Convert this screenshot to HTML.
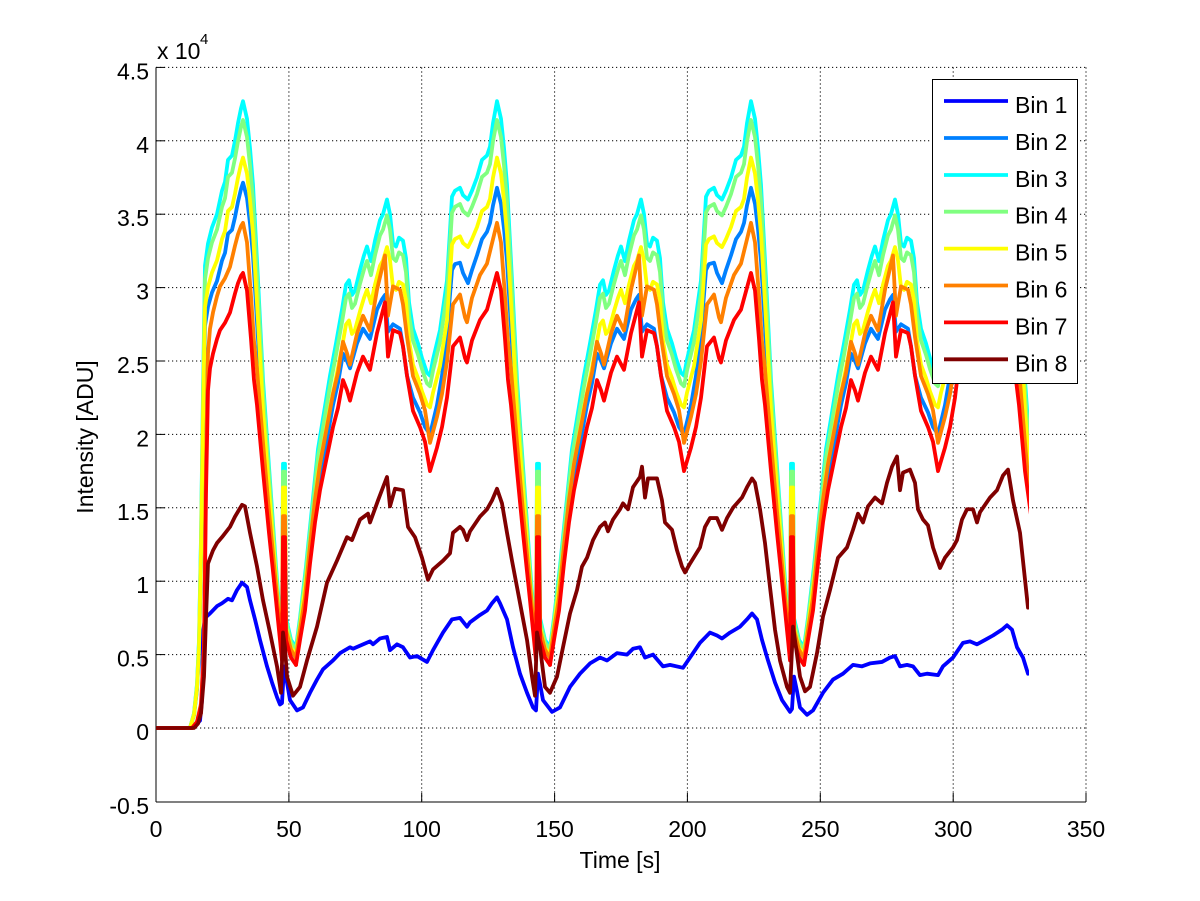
<!DOCTYPE html>
<html><head><meta charset="utf-8"><style>
html,body{margin:0;padding:0;background:#fff;}
svg{display:block;font-family:"Liberation Sans",Arial,sans-serif;}
.dt path{vector-effect:non-scaling-stroke;fill:none;stroke-width:3.8;stroke-linejoin:round;stroke-linecap:round;}
.g line{stroke:#000;stroke-width:1;stroke-dasharray:1.2,2.8;}
.tk{font-size:23px;fill:#000;}
</style></head><body>
<svg width="1200" height="901" viewBox="0 0 1200 901" xmlns="http://www.w3.org/2000/svg">
<rect x="0" y="0" width="1200" height="901" fill="#fff"/>
<defs><clipPath id="c"><rect x="156" y="0" width="873" height="901"/></clipPath></defs>
<g class="g">
<line x1="156" y1="67.4" x2="1086" y2="67.4"/>
<line x1="156" y1="140.8" x2="1086" y2="140.8"/>
<line x1="156" y1="214.2" x2="1086" y2="214.2"/>
<line x1="156" y1="287.6" x2="1086" y2="287.6"/>
<line x1="156" y1="361" x2="1086" y2="361"/>
<line x1="156" y1="434.4" x2="1086" y2="434.4"/>
<line x1="156" y1="507.8" x2="1086" y2="507.8"/>
<line x1="156" y1="581.2" x2="1086" y2="581.2"/>
<line x1="156" y1="654.6" x2="1086" y2="654.6"/>
<line x1="156" y1="728" x2="1086" y2="728"/>
<line x1="288.9" y1="67.4" x2="288.9" y2="802"/>
<line x1="421.7" y1="67.4" x2="421.7" y2="802"/>
<line x1="554.6" y1="67.4" x2="554.6" y2="802"/>
<line x1="687.4" y1="67.4" x2="687.4" y2="802"/>
<line x1="820.3" y1="67.4" x2="820.3" y2="802"/>
<line x1="953.2" y1="67.4" x2="953.2" y2="802"/>
<line x1="1086" y1="67.4" x2="1086" y2="802"/>
</g>
<g stroke="#000" stroke-width="1">
<line x1="156" y1="67.4" x2="156" y2="802"/>
<line x1="156" y1="802" x2="1086" y2="802"/>
<line x1="156" y1="67.4" x2="165" y2="67.4"/>
<line x1="156" y1="140.8" x2="165" y2="140.8"/>
<line x1="156" y1="214.2" x2="165" y2="214.2"/>
<line x1="156" y1="287.6" x2="165" y2="287.6"/>
<line x1="156" y1="361" x2="165" y2="361"/>
<line x1="156" y1="434.4" x2="165" y2="434.4"/>
<line x1="156" y1="507.8" x2="165" y2="507.8"/>
<line x1="156" y1="581.2" x2="165" y2="581.2"/>
<line x1="156" y1="654.6" x2="165" y2="654.6"/>
<line x1="156" y1="728" x2="165" y2="728"/>
<line x1="288.9" y1="802" x2="288.9" y2="793"/>
<line x1="421.7" y1="802" x2="421.7" y2="793"/>
<line x1="554.6" y1="802" x2="554.6" y2="793"/>
<line x1="687.4" y1="802" x2="687.4" y2="793"/>
<line x1="820.3" y1="802" x2="820.3" y2="793"/>
<line x1="953.2" y1="802" x2="953.2" y2="793"/>
<line x1="1086" y1="802" x2="1086" y2="793"/>
</g>

<g clip-path="url(#c)">
<g class="dt" transform="translate(0,728) scale(1,-146.8)">
<!-- Bin 1 -->
<path stroke="#0000ff" d="M156,0 192,0 196,0.02 200,0.05 202,0.19 203,0.65 205,0.75 210,0.78 217,0.83 222,0.85 228,0.88 232,0.87 237,0.94 242,0.99 247,0.96 250,0.87 255,0.74 260,0.6 267,0.42 272,0.31 277,0.21 280,0.16 282,0.17 284,0.42 286,0.35 290,0.19 297,0.12 303,0.14 310,0.24 317,0.33 323,0.4 333,0.46 340,0.51 350,0.55 353,0.54 363,0.57 370,0.59 373,0.57 380,0.61 387,0.62 390,0.53 397,0.57 403,0.55 410,0.48 417,0.49 427,0.45 433,0.53 443,0.65 452,0.74 460,0.75 467,0.69 470,0.72 480,0.77 487,0.8 492,0.85 497,0.89 500,0.85 507,0.74 513,0.55 520,0.37 527,0.24 533,0.14 536,0.12 538,0.37 540,0.3 543,0.19 552,0.11 560,0.14 570,0.28 580,0.37 590,0.44 600,0.48 607,0.46 617,0.51 627,0.5 633,0.54 640,0.55 645,0.48 653,0.5 663,0.42 670,0.43 683,0.41 690,0.48 700,0.58 710,0.65 717,0.63 722,0.61 730,0.65 740,0.69 747,0.74 752,0.78 757,0.74 762,0.6 768,0.46 775,0.31 782,0.19 790,0.11 792,0.13 794,0.35 797,0.25 800,0.14 807,0.09 813,0.12 823,0.24 833,0.33 843,0.37 853,0.43 862,0.42 870,0.44 882,0.45 890,0.48 895,0.49 900,0.42 907,0.43 913,0.42 920,0.36 927,0.37 938,0.36 943,0.42 953,0.48 963,0.58 970,0.59 977,0.57 985,0.6 993,0.63 1002,0.67 1007,0.7 1012,0.67 1017,0.55 1023,0.48 1028,0.37"/>
<!-- Bin 2 -->
<g stroke="#0080ff">
<path transform="scale(1,0.87)" d="M156,0 190,0 194,0.1 197,0.3 199,0.6 201,1.3 203,2.3 205,3.15 208,3.3 212,3.41 217,3.5 222,3.66 225,3.72 228,3.87 232,3.9 235,4.0 238,4.12 241,4.22 243,4.27 247,4.15 250,3.95 253,3.7 258,3.05 263,2.37 269,1.78 276,1.1 280,0.75 282,0.6 283,1.8 285,1.8 286,0.75 291,0.6 296,0.55"/>
<path d="M296,0.48 300,0.68 305,0.9 310,1.2 315,1.5 320,1.72 327,1.97 333,2.2 338,2.35 343,2.55 347,2.5 350,2.45 357,2.62 363,2.72 370,2.65 377,2.85 382,2.92 385,2.95 388,2.7 393,2.75 400,2.72 403,2.6 407,2.4 413,2.25 420,2.15 425,2.05 430,2.0 437,2.2 442,2.4 447,2.7 450,2.95 452,3.12 455,3.16 460,3.17 463,3.1 468,3.03 472,3.12 477,3.22 482,3.33 487,3.38 490,3.44 493,3.56 497,3.68 501,3.57 504,3.4 507,3.18 512,2.62 517,2.04 523,1.53 530,0.95 534,0.65 536,0.52 537,1.55 539,1.55 540,0.65 545,0.52 550,0.48"/>
<path transform="translate(254,0)" d="M296,0.48 300,0.68 305,0.9 310,1.2 315,1.5 320,1.72 327,1.97 333,2.2 338,2.35 343,2.55 347,2.5 350,2.45 357,2.62 363,2.72 370,2.65 377,2.85 382,2.92 385,2.95 388,2.7 393,2.75 400,2.72 403,2.6 407,2.4 413,2.25 420,2.15 425,2.05 430,2.0 437,2.2 442,2.4 447,2.7 450,2.95 452,3.12 455,3.16 460,3.17 463,3.1 468,3.03 472,3.12 477,3.22 482,3.33 487,3.38 490,3.44 493,3.56 497,3.68 501,3.57 504,3.4 507,3.18 512,2.62 517,2.04 523,1.53 530,0.95 534,0.65 536,0.52 537,1.55 539,1.55 540,0.65 545,0.52 550,0.48"/>
<path transform="translate(508,0)" d="M296,0.48 300,0.68 305,0.9 310,1.2 315,1.5 320,1.72 327,1.97 333,2.2 338,2.35 343,2.55 347,2.5 350,2.45 357,2.62 363,2.72 370,2.65 377,2.85 382,2.92 385,2.95 388,2.7 393,2.75 400,2.72 403,2.6 407,2.4 413,2.25 420,2.15 425,2.05 430,2.0 437,2.2 442,2.4 447,2.7 450,2.95 452,3.12 455,3.16 460,3.17 463,3.1 468,3.03 472,3.12 477,3.22 482,3.33 487,3.38 490,3.44 493,3.56 497,3.68 501,3.57 504,3.4 507,3.18 512,2.62 517,2.04 523,1.53 530,0.95"/>
</g>
<!-- Bin 3 -->
<g stroke="#00ffff">
<path d="M156,0 190,0 194,0.1 197,0.3 199,0.6 201,1.3 203,2.3 205,3.15 208,3.3 212,3.41 217,3.5 222,3.66 225,3.72 228,3.87 232,3.9 235,4.0 238,4.12 241,4.22 243,4.27 247,4.15 250,3.95 253,3.7 258,3.05 263,2.37 269,1.78 276,1.1 280,0.75 282,0.6 283,1.8 285,1.8 286,0.75 291,0.6 296,0.55"/>
<path d="M296,0.55 300,0.75 306,1.1 312,1.5 318,1.9 324,2.15 330,2.4 336,2.62 342,2.85 346,3.02 349,3.05 352,2.95 355,2.98 360,3.12 364,3.22 367,3.28 371,3.18 375,3.32 380,3.46 383,3.5 387,3.6 390,3.5 393,3.3 396,3.28 399,3.34 403,3.32 406,3.2 409,2.9 413,2.72 418,2.62 422,2.52 427,2.42 430,2.4 433,2.51 440,2.71 447,3.05 450,3.39 452,3.62 455,3.66 460,3.68 463,3.63 468,3.6 472,3.66 477,3.75 482,3.87 487,3.9 490,3.96 493,4.12 497,4.27 501,4.15 504,3.95 507,3.7 512,3.05 517,2.37 523,1.78 530,1.1 534,0.75 536,0.6 537,1.8 539,1.8 540,0.75 545,0.6 550,0.55"/>
<path transform="translate(254,0)" d="M296,0.55 300,0.75 306,1.1 312,1.5 318,1.9 324,2.15 330,2.4 336,2.62 342,2.85 346,3.02 349,3.05 352,2.95 355,2.98 360,3.12 364,3.22 367,3.28 371,3.18 375,3.32 380,3.46 383,3.5 387,3.6 390,3.5 393,3.3 396,3.28 399,3.34 403,3.32 406,3.2 409,2.9 413,2.72 418,2.62 422,2.52 427,2.42 430,2.4 433,2.51 440,2.71 447,3.05 450,3.39 452,3.62 455,3.66 460,3.68 463,3.63 468,3.6 472,3.66 477,3.75 482,3.87 487,3.9 490,3.96 493,4.12 497,4.27 501,4.15 504,3.95 507,3.7 512,3.05 517,2.37 523,1.78 530,1.1 534,0.75 536,0.6 537,1.8 539,1.8 540,0.75 545,0.6 550,0.55"/>
<path transform="translate(508,0)" d="M296,0.55 300,0.75 306,1.1 312,1.5 318,1.9 324,2.15 330,2.4 336,2.62 342,2.85 346,3.02 349,3.05 352,2.95 355,2.98 360,3.12 364,3.22 367,3.28 371,3.18 375,3.32 380,3.46 383,3.5 387,3.6 390,3.5 393,3.3 396,3.28 399,3.34 403,3.32 406,3.2 409,2.9 413,2.72 418,2.62 422,2.52 427,2.42 430,2.4 433,2.51 440,2.71 447,3.05 450,3.39 452,3.62 455,3.66 460,3.68 463,3.63 468,3.6 472,3.66 477,3.75 482,3.87 487,3.9 490,3.96 493,4.12 497,4.27 501,4.15 504,3.95 507,3.7 512,3.05 517,2.37 523,1.78 530,1.1 534,0.75 536,0.6"/>
</g>
<!-- Bin 4 -->
<g transform="scale(1,0.97)" stroke="#80ff80">
<path d="M156,0 190,0 194,0.1 197,0.3 199,0.6 201,1.3 203,2.3 205,3.15 208,3.3 212,3.41 217,3.5 222,3.66 225,3.72 228,3.87 232,3.9 235,4.0 238,4.12 241,4.22 243,4.27 247,4.15 250,3.95 253,3.7 258,3.05 263,2.37 269,1.78 276,1.1 280,0.75 282,0.6 283,1.8 285,1.8 286,0.75 291,0.6 296,0.55"/>
<path d="M296,0.55 300,0.75 306,1.1 312,1.5 318,1.9 324,2.15 330,2.4 336,2.62 342,2.85 346,3.02 349,3.05 352,2.95 355,2.98 360,3.12 364,3.22 367,3.28 371,3.18 375,3.32 380,3.46 383,3.5 387,3.6 390,3.5 393,3.3 396,3.28 399,3.34 403,3.32 406,3.2 409,2.9 413,2.72 418,2.62 422,2.52 427,2.42 430,2.4 433,2.51 440,2.71 447,3.05 450,3.39 452,3.62 455,3.66 460,3.68 463,3.63 468,3.6 472,3.66 477,3.75 482,3.87 487,3.9 490,3.96 493,4.12 497,4.27 501,4.15 504,3.95 507,3.7 512,3.05 517,2.37 523,1.78 530,1.1 534,0.75 536,0.6 537,1.8 539,1.8 540,0.75 545,0.6 550,0.55"/>
<path transform="translate(254,0)" d="M296,0.55 300,0.75 306,1.1 312,1.5 318,1.9 324,2.15 330,2.4 336,2.62 342,2.85 346,3.02 349,3.05 352,2.95 355,2.98 360,3.12 364,3.22 367,3.28 371,3.18 375,3.32 380,3.46 383,3.5 387,3.6 390,3.5 393,3.3 396,3.28 399,3.34 403,3.32 406,3.2 409,2.9 413,2.72 418,2.62 422,2.52 427,2.42 430,2.4 433,2.51 440,2.71 447,3.05 450,3.39 452,3.62 455,3.66 460,3.68 463,3.63 468,3.6 472,3.66 477,3.75 482,3.87 487,3.9 490,3.96 493,4.12 497,4.27 501,4.15 504,3.95 507,3.7 512,3.05 517,2.37 523,1.78 530,1.1 534,0.75 536,0.6 537,1.8 539,1.8 540,0.75 545,0.6 550,0.55"/>
<path transform="translate(508,0)" d="M296,0.55 300,0.75 306,1.1 312,1.5 318,1.9 324,2.15 330,2.4 336,2.62 342,2.85 346,3.02 349,3.05 352,2.95 355,2.98 360,3.12 364,3.22 367,3.28 371,3.18 375,3.32 380,3.46 383,3.5 387,3.6 390,3.5 393,3.3 396,3.28 399,3.34 403,3.32 406,3.2 409,2.9 413,2.72 418,2.62 422,2.52 427,2.42 430,2.4 433,2.51 440,2.71 447,3.05 450,3.39 452,3.62 455,3.66 460,3.68 463,3.63 468,3.6 472,3.66 477,3.75 482,3.87 487,3.9 490,3.96 493,4.12 497,4.27 501,4.15 504,3.95 507,3.7 512,3.05 517,2.37 523,1.78 530,1.1 534,0.75 536,0.6"/>
</g>
<!-- Bin 5 -->
<g transform="scale(1,0.91)" stroke="#ffff00">
<path d="M156,0 190,0 194,0.1 197,0.3 199,0.6 201,1.3 203,2.3 205,3.15 208,3.3 212,3.41 217,3.5 222,3.66 225,3.72 228,3.87 232,3.9 235,4.0 238,4.12 241,4.22 243,4.27 247,4.15 250,3.95 253,3.7 258,3.05 263,2.37 269,1.78 276,1.1 280,0.75 282,0.6 283,1.8 285,1.8 286,0.75 291,0.6 296,0.55"/>
<path d="M296,0.55 300,0.75 306,1.1 312,1.5 318,1.9 324,2.15 330,2.4 336,2.62 342,2.85 346,3.02 349,3.05 352,2.95 355,2.98 360,3.12 364,3.22 367,3.28 371,3.18 375,3.32 380,3.46 383,3.5 387,3.6 390,3.5 393,3.3 396,3.28 399,3.34 403,3.32 406,3.2 409,2.9 413,2.72 418,2.62 422,2.52 427,2.42 430,2.4 433,2.51 440,2.71 447,3.05 450,3.39 452,3.62 455,3.66 460,3.68 463,3.63 468,3.6 472,3.66 477,3.75 482,3.87 487,3.9 490,3.96 493,4.12 497,4.27 501,4.15 504,3.95 507,3.7 512,3.05 517,2.37 523,1.78 530,1.1 534,0.75 536,0.6 537,1.8 539,1.8 540,0.75 545,0.6 550,0.55"/>
<path transform="translate(254,0)" d="M296,0.55 300,0.75 306,1.1 312,1.5 318,1.9 324,2.15 330,2.4 336,2.62 342,2.85 346,3.02 349,3.05 352,2.95 355,2.98 360,3.12 364,3.22 367,3.28 371,3.18 375,3.32 380,3.46 383,3.5 387,3.6 390,3.5 393,3.3 396,3.28 399,3.34 403,3.32 406,3.2 409,2.9 413,2.72 418,2.62 422,2.52 427,2.42 430,2.4 433,2.51 440,2.71 447,3.05 450,3.39 452,3.62 455,3.66 460,3.68 463,3.63 468,3.6 472,3.66 477,3.75 482,3.87 487,3.9 490,3.96 493,4.12 497,4.27 501,4.15 504,3.95 507,3.7 512,3.05 517,2.37 523,1.78 530,1.1 534,0.75 536,0.6 537,1.8 539,1.8 540,0.75 545,0.6 550,0.55"/>
<path transform="translate(508,0)" d="M296,0.55 300,0.75 306,1.1 312,1.5 318,1.9 324,2.15 330,2.4 336,2.62 342,2.85 346,3.02 349,3.05 352,2.95 355,2.98 360,3.12 364,3.22 367,3.28 371,3.18 375,3.32 380,3.46 383,3.5 387,3.6 390,3.5 393,3.3 396,3.28 399,3.34 403,3.32 406,3.2 409,2.9 413,2.72 418,2.62 422,2.52 427,2.42 430,2.4 433,2.51 440,2.71 447,3.05 450,3.39 452,3.62 455,3.66 460,3.68 463,3.63 468,3.6 472,3.66 477,3.75 482,3.87 487,3.9 490,3.96 493,4.12 497,4.27 501,4.15 504,3.95 507,3.7 512,3.05 517,2.37 523,1.78 530,1.1 534,0.75 536,0.6"/>
</g>
<!-- Bin 6 -->
<g transform="scale(1,1.11)" stroke="#ff8000">
<path d="M156,0 192,0 197,0.04 201,0.15 204,0.5 206,1.6 208,2.3 210,2.45 213,2.55 217,2.65 220,2.71 225,2.76 230,2.83 235,2.96 238,3.03 241,3.08 243,3.1 247,2.98 251,2.65 254,2.37 257,2.2 263,1.75 269,1.33 276,0.87 280,0.6 282,0.46 283,1.3 285,1.3 286,0.6 291,0.48 296,0.43"/>
<path d="M296,0.43 300,0.6 305,0.8 310,1.12 315,1.4 320,1.62 327,1.85 333,2.05 338,2.18 343,2.37 347,2.3 350,2.23 357,2.42 363,2.53 370,2.44 377,2.69 382,2.82 385,2.9 388,2.53 393,2.71 400,2.69 403,2.6 407,2.4 413,2.16 420,2.05 425,1.95 430,1.75 437,1.91 442,2.05 447,2.25 453,2.6 460,2.66 465,2.52 467,2.49 472,2.64 480,2.78 487,2.85 493,3 497,3.1 501,2.98 505,2.65 508,2.37 511,2.2 517,1.75 523,1.33 530,0.87 534,0.6 536,0.46 537,1.3 539,1.3 540,0.6 545,0.48 550,0.43"/>
<path transform="translate(254,0)" d="M296,0.43 300,0.6 305,0.8 310,1.12 315,1.4 320,1.62 327,1.85 333,2.05 338,2.18 343,2.37 347,2.3 350,2.23 357,2.42 363,2.53 370,2.44 377,2.69 382,2.82 385,2.9 388,2.53 393,2.71 400,2.69 403,2.6 407,2.4 413,2.16 420,2.05 425,1.95 430,1.75 437,1.91 442,2.05 447,2.25 453,2.6 460,2.66 465,2.52 467,2.49 472,2.64 480,2.78 487,2.85 493,3 497,3.1 501,2.98 505,2.65 508,2.37 511,2.2 517,1.75 523,1.33 530,0.87 534,0.6 536,0.46 537,1.3 539,1.3 540,0.6 545,0.48 550,0.43"/>
<path transform="translate(508,0)" d="M296,0.43 300,0.6 305,0.8 310,1.12 315,1.4 320,1.62 327,1.85 333,2.05 338,2.18 343,2.37 347,2.3 350,2.23 357,2.42 363,2.53 370,2.44 377,2.69 382,2.82 385,2.9 388,2.53 393,2.71 400,2.69 403,2.6 407,2.4 413,2.16 420,2.05 425,1.95 430,1.75 437,1.91 442,2.05 447,2.25 453,2.6 460,2.66 465,2.52 467,2.49 472,2.64 480,2.78 487,2.85 493,3 497,3.1 501,2.98 505,2.65 508,2.37 511,2.2 517,1.75 523,1.33 530,0.87 534,0.6"/>
</g>
<!-- Bin 7 -->
<g stroke="#ff0000">
<path d="M156,0 192,0 197,0.04 201,0.15 204,0.5 206,1.6 208,2.3 210,2.45 213,2.55 217,2.65 220,2.71 225,2.76 230,2.83 235,2.96 238,3.03 241,3.08 243,3.1 247,2.98 251,2.65 254,2.37 257,2.2 263,1.75 269,1.33 276,0.87 280,0.6 282,0.46 283,1.3 285,1.3 286,0.6 291,0.48 296,0.43"/>
<path d="M296,0.43 300,0.6 305,0.8 310,1.12 315,1.4 320,1.62 327,1.85 333,2.05 338,2.18 343,2.37 347,2.3 350,2.23 357,2.42 363,2.53 370,2.44 377,2.69 382,2.82 385,2.9 388,2.53 393,2.71 400,2.69 403,2.6 407,2.4 413,2.16 420,2.05 425,1.95 430,1.75 437,1.91 442,2.05 447,2.25 453,2.6 460,2.66 465,2.52 467,2.49 472,2.64 480,2.78 487,2.85 493,3 497,3.1 501,2.98 505,2.65 508,2.37 511,2.2 517,1.75 523,1.33 530,0.87 534,0.6 536,0.46 537,1.3 539,1.3 540,0.6 545,0.48 550,0.43"/>
<path transform="translate(254,0)" d="M296,0.43 300,0.6 305,0.8 310,1.12 315,1.4 320,1.62 327,1.85 333,2.05 338,2.18 343,2.37 347,2.3 350,2.23 357,2.42 363,2.53 370,2.44 377,2.69 382,2.82 385,2.9 388,2.53 393,2.71 400,2.69 403,2.6 407,2.4 413,2.16 420,2.05 425,1.95 430,1.75 437,1.91 442,2.05 447,2.25 453,2.6 460,2.66 465,2.52 467,2.49 472,2.64 480,2.78 487,2.85 493,3 497,3.1 501,2.98 505,2.65 508,2.37 511,2.2 517,1.75 523,1.33 530,0.87 534,0.6 536,0.46 537,1.3 539,1.3 540,0.6 545,0.48 550,0.43"/>
<path transform="translate(508,0)" d="M296,0.43 300,0.6 305,0.8 310,1.12 315,1.4 320,1.62 327,1.85 333,2.05 338,2.18 343,2.37 347,2.3 350,2.23 357,2.42 363,2.53 370,2.44 377,2.69 382,2.82 385,2.9 388,2.53 393,2.71 400,2.69 403,2.6 407,2.4 413,2.16 420,2.05 425,1.95 430,1.75 437,1.91 442,2.05 447,2.25 453,2.6 460,2.66 465,2.52 467,2.49 472,2.64 480,2.78 487,2.85 493,3 497,3.1 501,2.98 505,2.65 508,2.37 511,2.2 517,1.75 523,1.45 530,0.87"/>
</g>
<!-- Bin 8 -->
<path stroke="#800000" d="M156,0 194,0 198,0.03 201,0.1 204,0.35 206,0.75 208,1.12 213,1.21 217,1.26 222,1.3 230,1.37 235,1.44 242,1.52 245,1.51 250,1.33 257,1.1 263,0.87 270,0.65 277,0.42 281,0.24 283,0.65 285,0.55 287,0.35 293,0.22 300,0.28 307,0.46 317,0.69 327,0.99 337,1.14 347,1.3 352,1.28 360,1.42 368,1.46 370,1.4 378,1.55 383,1.64 387,1.71 390,1.51 395,1.63 403,1.62 408,1.37 415,1.3 422,1.16 428,1.01 433,1.08 443,1.14 450,1.19 453,1.33 460,1.37 463,1.35 467,1.28 470,1.34 480,1.44 487,1.49 492,1.55 497,1.63 502,1.53 507,1.33 512,1.14 517,0.96 522,0.78 527,0.6 532,0.35 535,0.22 537,0.65 540,0.55 545,0.28 550,0.24 557,0.35 563,0.55 570,0.78 577,0.94 582,1.1 587,1.16 593,1.28 600,1.37 605,1.4 608,1.34 613,1.42 620,1.49 623,1.53 628,1.49 633,1.64 640,1.71 642,1.78 645,1.57 648,1.7 657,1.7 662,1.55 665,1.4 672,1.35 677,1.21 682,1.1 685,1.06 690,1.12 700,1.23 705,1.37 710,1.43 717,1.43 722,1.35 727,1.43 733,1.5 742,1.57 747,1.64 752,1.7 755,1.67 760,1.49 765,1.26 770,0.96 775,0.67 780,0.46 787,0.28 790,0.24 793,0.69 796,0.55 800,0.35 805,0.25 810,0.28 817,0.51 823,0.76 830,0.94 838,1.16 847,1.23 853,1.35 858,1.46 863,1.4 868,1.51 875,1.57 882,1.53 887,1.67 892,1.78 897,1.85 900,1.62 903,1.74 910,1.76 915,1.67 918,1.49 923,1.42 928,1.38 933,1.23 940,1.09 945,1.16 953,1.23 957,1.28 962,1.42 967,1.49 973,1.49 977,1.4 980,1.47 990,1.57 997,1.62 1003,1.72 1008,1.76 1013,1.55 1020,1.33 1028,0.82"/>
</g>
</g>

<!-- tick labels -->
<g class="tk" text-anchor="end">
<text x="149" y="79.4">4.5</text>
<text x="149" y="152.8">4</text>
<text x="149" y="226.2">3.5</text>
<text x="149" y="299.6">3</text>
<text x="149" y="373">2.5</text>
<text x="149" y="446.4">2</text>
<text x="149" y="519.8">1.5</text>
<text x="149" y="593.2">1</text>
<text x="149" y="666.6">0.5</text>
<text x="149" y="740">0</text>
<text x="149" y="814">-0.5</text>
</g>
<g class="tk" text-anchor="middle">
<text x="156" y="837">0</text>
<text x="288.9" y="837">50</text>
<text x="421.7" y="837">100</text>
<text x="554.6" y="837">150</text>
<text x="687.4" y="837">200</text>
<text x="820.3" y="837">250</text>
<text x="953.2" y="837">300</text>
<text x="1086" y="837">350</text>
<text x="620" y="868">Time [s]</text>
<text transform="translate(93,437) rotate(-90)">Intensity [ADU]</text>
</g>
<text class="tk" x="157" y="59">x 10</text>
<text x="200" y="44" style="font-size:15px">4</text>

<!-- legend -->
<rect x="932.5" y="79.5" width="145" height="304" fill="#fff" stroke="#000" stroke-width="1"/>
<g stroke-width="3.8">
<line x1="944" y1="101" x2="1008" y2="101" stroke="#0000ff"/>
<line x1="944" y1="138" x2="1008" y2="138" stroke="#0080ff"/>
<line x1="944" y1="175" x2="1008" y2="175" stroke="#00ffff"/>
<line x1="944" y1="211.7" x2="1008" y2="211.7" stroke="#80ff80"/>
<line x1="944" y1="248.6" x2="1008" y2="248.6" stroke="#ffff00"/>
<line x1="944" y1="285.5" x2="1008" y2="285.5" stroke="#ff8000"/>
<line x1="944" y1="322.4" x2="1008" y2="322.4" stroke="#ff0000"/>
<line x1="944" y1="359.3" x2="1008" y2="359.3" stroke="#800000"/>
</g>
<g class="tk">
<text x="1015" y="113">Bin 1</text>
<text x="1015" y="150">Bin 2</text>
<text x="1015" y="187">Bin 3</text>
<text x="1015" y="223.7">Bin 4</text>
<text x="1015" y="260.6">Bin 5</text>
<text x="1015" y="297.5">Bin 6</text>
<text x="1015" y="334.4">Bin 7</text>
<text x="1015" y="371.3">Bin 8</text>
</g>
</svg>
</body></html>
